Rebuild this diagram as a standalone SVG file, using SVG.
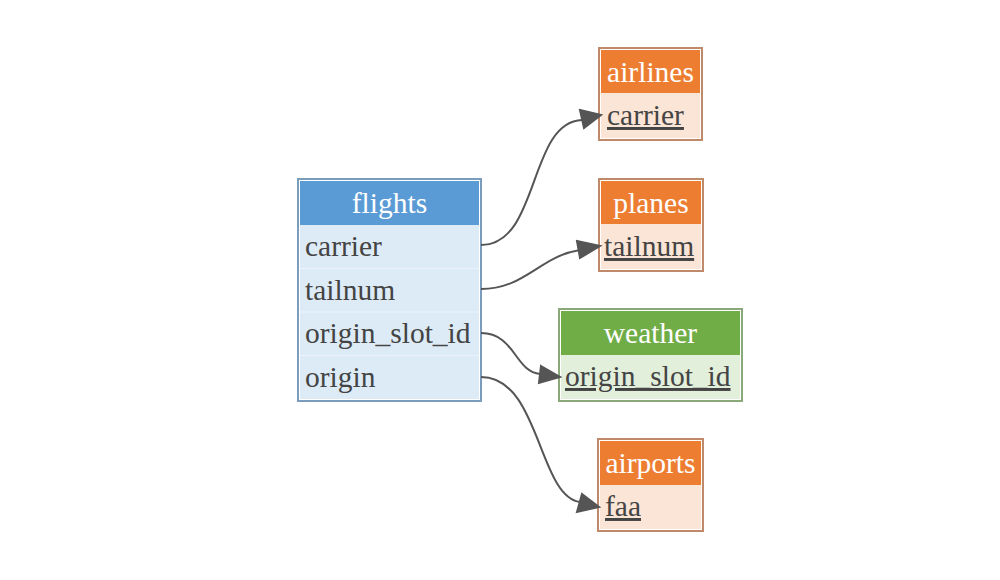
<svg xmlns="http://www.w3.org/2000/svg" width="1000" height="580" viewBox="0 0 1000 580">
<defs>
<style>
.t{font-family:"Liberation Serif","Times New Roman",serif;font-size:29.5px;}
.h{fill:#ffffff;text-anchor:middle;}
.f{fill:#444444;}
.k{fill:#444444;text-decoration:underline;text-decoration-thickness:1.5px;text-decoration-skip-ink:none;}
.e{fill:none;stroke:#555555;stroke-width:2;}
.a{fill:#555555;stroke:#555555;stroke-width:2;}
.div{stroke:#ecf3fa;stroke-width:1;}
</style>
</defs>
<rect width="1000" height="580" fill="#ffffff"/>
<g id="flights">
<rect x="298" y="179" width="183" height="222" fill="#ffffff" stroke="#7a9cbd" stroke-width="2"/>
<rect x="300" y="181" width="179" height="44" fill="#5b9bd5"/>
<rect x="300" y="225" width="179" height="174" fill="#ddebf7"/>
<line class="div" x1="300" y1="268.5" x2="479" y2="268.5"/>
<line class="div" x1="300" y1="312" x2="479" y2="312"/>
<line class="div" x1="300" y1="355.5" x2="479" y2="355.5"/>
<text class="t h" x="389.5" y="213">flights</text>
<text class="t f" x="305" y="256">carrier</text>
<text class="t f" x="305" y="300">tailnum</text>
<text class="t f" x="305" y="343">origin_slot_id</text>
<text class="t f" x="305" y="387">origin</text>
</g>
<g id="airlines">
<rect x="599" y="48" width="103" height="92" fill="#ffffff" stroke="#c08a6a" stroke-width="2"/>
<rect x="601" y="50" width="99" height="43" fill="#ed7d31"/>
<rect x="601" y="93" width="99" height="45" fill="#fbe5d6"/>
<text class="t h" x="650.5" y="82">airlines</text>
<text class="t k" x="607" y="125">carrier</text>
</g>
<g id="planes">
<rect x="599" y="179" width="104" height="92" fill="#ffffff" stroke="#c08a6a" stroke-width="2"/>
<rect x="601" y="181" width="100" height="43" fill="#ed7d31"/>
<rect x="601" y="224" width="100" height="45" fill="#fbe5d6"/>
<text class="t h" x="651" y="213">planes</text>
<text class="t k" x="604" y="256">tailnum</text>
</g>
<g id="weather">
<rect x="559" y="309" width="183" height="92" fill="#ffffff" stroke="#8aa87a" stroke-width="2"/>
<rect x="561" y="311" width="179" height="44" fill="#70ad47"/>
<rect x="561" y="355" width="179" height="44" fill="#e2efda"/>
<text class="t h" x="650.5" y="343">weather</text>
<text class="t k" x="565" y="386">origin_slot_id</text>
</g>
<g id="airports">
<rect x="598" y="439" width="105" height="92" fill="#ffffff" stroke="#c08a6a" stroke-width="2"/>
<rect x="600" y="441" width="101" height="44" fill="#ed7d31"/>
<rect x="600" y="485" width="101" height="44" fill="#fbe5d6"/>
<text class="t h" x="650.5" y="473">airports</text>
<text class="t k" x="605" y="516">faa</text>
</g>
<g id="connectors">
<path class="e" d="M481,245 C540,245 528,122 582,120"/>
<polygon class="a" points="580,110 601,115 584,128"/>
<path class="e" d="M481,289 C525,289 540,256 580,250"/>
<polygon class="a" points="577,241 600,246 580,258"/>
<path class="e" d="M481,333 C515,333 515,372 540,374"/>
<polygon class="a" points="541,366 560,377 539,383"/>
<path class="e" d="M481,377 C540,377 538,496 580,502"/>
<polygon class="a" points="582,494 599,507 577,512"/>
</g>
</svg>
